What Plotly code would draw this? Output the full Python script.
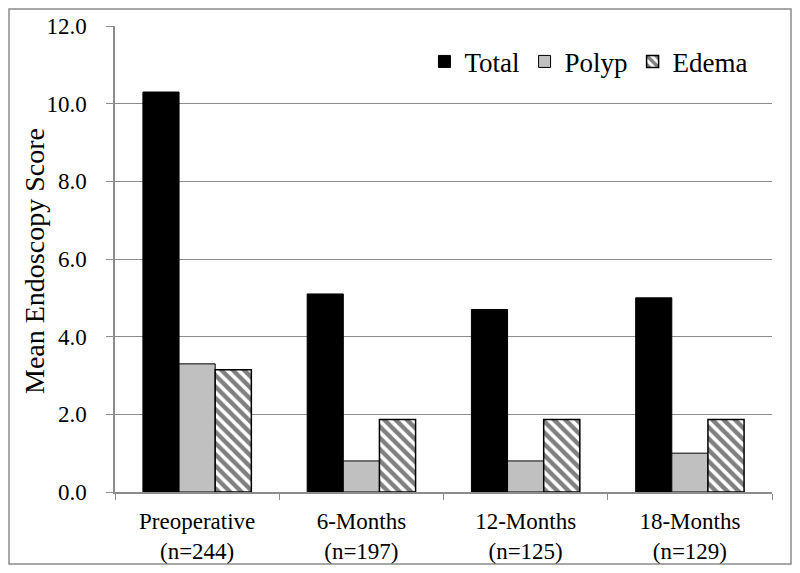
import plotly.graph_objects as go

categories = ["Preoperative<br>(n=244)", "6-Months<br>(n=197)", "12-Months<br>(n=125)", "18-Months<br>(n=129)"]
total = [10.3, 5.1, 4.7, 5.0]
polyp = [3.3, 0.8, 0.8, 1.0]
edema = [3.15, 1.87, 1.87, 1.87]
y_ticks = [0, 2, 4, 6, 8, 10, 12]
y_tick_labels = ["0.0", "2.0", "4.0", "6.0", "8.0", "10.0", "12.0"]
y_title = "Mean Endoscopy Score"

FONT = "Liberation Serif"

fig = go.Figure()
fig.add_trace(go.Bar(name="Total", x=categories, y=total,
                     marker=dict(color="black", line=dict(color="black", width=1))))
fig.add_trace(go.Bar(name="Polyp", x=categories, y=polyp,
                     marker=dict(color="#c0c0c0", line=dict(color="black", width=1))))
fig.add_trace(go.Bar(name="Edema", x=categories, y=edema,
                     marker=dict(color="white", line=dict(color="black", width=1.5),
                                 pattern=dict(shape="\\", fgcolor="black", bgcolor="white",
                                              size=8, solidity=0.55))))

# page has an 8px body margin; figure is drawn at (8, 8)
OFF = 8
W, H = 800 - 2 * OFF, 573 - 2 * OFF
L = 115 - OFF
T = 26 - OFF
R = (800 - OFF) - 772
B = (573 - OFF) - 492
pw, ph = W - L - R, H - T - B

fig.update_layout(
    width=W, height=H,
    barmode="group", bargap=0.34, bargroupgap=0,
    plot_bgcolor="white", paper_bgcolor="white",
    margin=dict(l=L, r=R, t=T, b=B, autoexpand=False),
    font=dict(family=FONT, size=23, color="black"),
    showlegend=True,
    legend=dict(orientation="h", x=0.471, y=0.923, xanchor="left", yanchor="middle",
                font=dict(family=FONT, size=27, color="black"),
                bgcolor="rgba(0,0,0,0)", itemwidth=30, traceorder="normal"),
    xaxis=dict(showline=True, linecolor="#8c8c8c", linewidth=1.5, automargin=False,
               ticks="outside", tickson="boundaries", ticklen=6, tickcolor="#8c8c8c",
               tickfont=dict(family=FONT, size=23, color="black"),
               ticklabelstandoff=8, showgrid=False),
    yaxis=dict(range=[0, 12], tickvals=y_ticks, ticktext=y_tick_labels, automargin=False,
               showline=True, linecolor="#8c8c8c", linewidth=1.5,
               ticks="outside", ticklen=7, tickcolor="#8c8c8c",
               showgrid=True, gridcolor="#8c8c8c", gridwidth=1.2,
               zeroline=False,
               tickfont=dict(family=FONT, size=23, color="black"),
               ticklabelstandoff=15),
)

# y-axis title placed as a rotated annotation
fig.add_annotation(text=y_title, textangle=-90, showarrow=False,
                   xref="paper", yref="paper",
                   x=(34 - 115) / pw, y=(492 - 261) / ph,
                   xanchor="center", yanchor="middle",
                   font=dict(family=FONT, size=28, color="black"))

# outer frame of the image
fig.add_shape(type="rect", xref="paper", yref="paper",
              x0=(1 - L) / pw, x1=(W - 1 - L) / pw,
              y0=(H - B - (H - 1)) / ph, y1=(H - B - 1) / ph,
              line=dict(color="#8c8c8c", width=1.5), fillcolor="rgba(0,0,0,0)", layer="below")

fig.write_html("out.html")
